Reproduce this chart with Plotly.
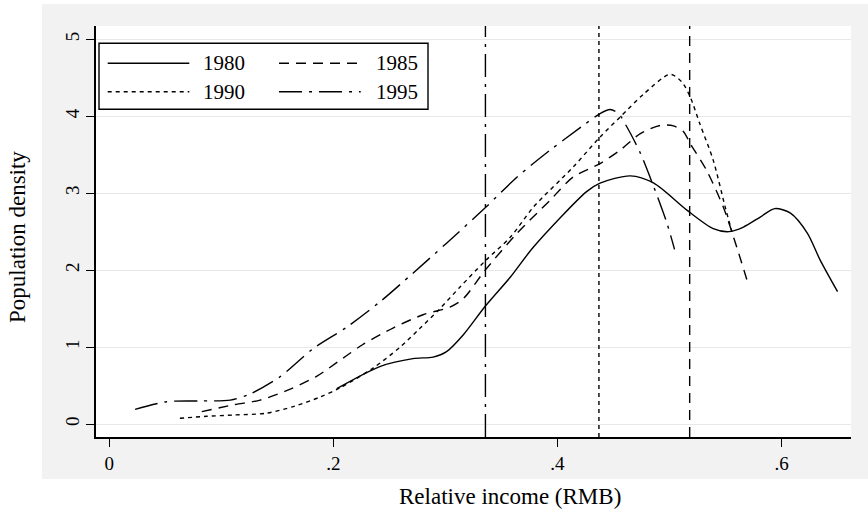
import plotly.graph_objects as go

# ---- data ----
years = ["1980", "1985", "1990", "1995"]

x1980 = [0.203, 0.242, 0.271, 0.289, 0.301, 0.316, 0.3355, 0.358, 0.3786, 0.426, 0.438,
         0.465, 0.486, 0.5155, 0.539, 0.553, 0.566, 0.581, 0.594, 0.608, 0.623, 0.6345, 0.650]
y1980 = [0.46, 0.75, 0.85, 0.87, 0.94, 1.16, 1.53, 1.91, 2.30, 3.02, 3.13,
         3.225, 3.13, 2.78, 2.54, 2.50, 2.56, 2.69, 2.80, 2.74, 2.48, 2.13, 1.72]

x1985 = [0.0825, 0.111, 0.1345, 0.161, 0.185, 0.209, 0.226, 0.2536, 0.280, 0.304, 0.316,
         0.3355, 0.364, 0.3935, 0.414, 0.438, 0.456, 0.474, 0.4917, 0.5036, 0.5125,
         0.5185, 0.533, 0.548, 0.560, 0.570]
y1985 = [0.16, 0.25, 0.31, 0.45, 0.62, 0.86, 1.03, 1.25, 1.42, 1.52, 1.63,
         2.00, 2.48, 2.91, 3.21, 3.385, 3.56, 3.775, 3.88, 3.875, 3.80,
         3.645, 3.30, 2.82, 2.30, 1.83]

x1990 = [0.063, 0.087, 0.111, 0.140, 0.165, 0.188, 0.206, 0.2357, 0.2596, 0.277, 0.2938,
         0.313, 0.3355, 0.358, 0.3786, 0.414, 0.438, 0.456, 0.477, 0.5006, 0.511,
         0.5185, 0.527, 0.539, 0.5497, 0.5557]
y1990 = [0.074, 0.10, 0.117, 0.14, 0.23, 0.35, 0.47, 0.73, 1.00, 1.24, 1.48,
         1.78, 2.12, 2.43, 2.82, 3.34, 3.73, 3.99, 4.29, 4.545, 4.445,
         4.25, 3.905, 3.43, 2.82, 2.50]

x1995 = [0.023, 0.0512, 0.081, 0.108, 0.1256, 0.152, 0.182, 0.212, 0.2417, 0.271, 0.301,
         0.3355, 0.364, 0.3935, 0.423, 0.438, 0.447, 0.4545, 0.462, 0.474, 0.486,
         0.4977, 0.5045]
y1995 = [0.19, 0.29, 0.30, 0.31, 0.39, 0.61, 0.98, 1.26, 1.59, 1.96, 2.35,
         2.81, 3.21, 3.56, 3.88, 4.035, 4.087, 4.035, 3.86, 3.52, 3.08,
         2.61, 2.27]

# vertical reference lines (mean relative income)
mean_years = ["1985", "1990", "1995"]
mean_values = [0.518, 0.437, 0.3357]

x_tickvals = [0, 0.2, 0.4, 0.6]
x_ticktext = ["0", ".2", ".4", ".6"]
y_tickvals = [0, 1, 2, 3, 4, 5]
y_ticktext = ["0", "1", "2", "3", "4", "5"]

# ---- styles ----
FONT = "Liberation Serif, Times New Roman, serif"
dash_style = {
    "1980": "solid",
    "1985": "10px,7px",
    "1990": "4px,4px",
    "1995": "23px,7px,3px,7px",
}
LW = 1.4

series = {"1980": (x1980, y1980), "1985": (x1985, y1985),
          "1990": (x1990, y1990), "1995": (x1995, y1995)}

fig = go.Figure()
for yr in years:
    xs, ys = series[yr]
    fig.add_trace(go.Scatter(
        x=xs, y=ys, mode="lines", name=yr, showlegend=False,
        line=dict(color="black", width=LW, dash=dash_style[yr],
                  shape="spline", smoothing=0.8),
        hoverinfo="skip"))

# plot geometry in pixels
W, H = 868, 510
L, R, T, B = 96, 851, 26, 437
pw, ph = R - L, B - T


def px(x):
    return (x - L) / pw


def py(y):
    return (B - y) / ph


shapes = []
# white outer strips (graph region is grey)
for (x0, x1, y0, y1) in [(0, 42, 0, H), (0, W, 479, H), (0, W, 0, 4)]:
    shapes.append(dict(type="rect", xref="paper", yref="paper",
                       x0=px(x0), x1=px(x1), y0=py(y1), y1=py(y0),
                       fillcolor="white", line=dict(width=0), layer="below"))

# vertical mean lines
for yr, mv in zip(mean_years, mean_values):
    shapes.append(dict(type="line", xref="x", yref="paper", x0=mv, x1=mv, y0=0, y1=1,
                       line=dict(color="black", width=LW, dash=dash_style[yr])))

# custom legend
shapes.append(dict(type="rect", xref="paper", yref="paper",
                   x0=px(99), x1=px(428), y0=py(109.3), y1=py(43.3),
                   fillcolor="white", line=dict(color="black", width=1.4)))
leg_rows = [63.3, 91.7]
leg_cols = [(107.7, 189.3, 200.5), (279, 360.7, 373.5)]
annotations = []
for i, yr in enumerate(["1980", "1985", "1990", "1995"]):
    r, c = divmod(i, 2)
    lx0, lx1, tx = leg_cols[c]
    yy = leg_rows[r]
    shapes.append(dict(type="line", xref="paper", yref="paper",
                       x0=px(lx0), x1=px(lx1), y0=py(yy), y1=py(yy),
                       line=dict(color="black", width=LW, dash=dash_style[yr])))
    annotations.append(dict(xref="paper", yref="paper", x=px(tx), y=py(yy),
                            xanchor="left", yanchor="middle", text=yr,
                            showarrow=False, font=dict(family=FONT, size=21, color="black")))

# axis titles
annotations.append(dict(xref="paper", yref="paper", x=px(510), y=py(496),
                        xanchor="center", yanchor="middle", text="Relative income (RMB)",
                        showarrow=False, font=dict(family=FONT, size=23, color="black")))
annotations.append(dict(xref="paper", yref="paper", x=px(17.5), y=py(237.5),
                        xanchor="center", yanchor="middle", text="Population density",
                        textangle=-90, showarrow=False,
                        font=dict(family=FONT, size=23, color="black")))

fig.update_layout(
    width=W, height=H,
    margin=dict(l=L, r=W - R, t=T, b=H - B, pad=0),
    paper_bgcolor="#f2f2f2", plot_bgcolor="white",
    font=dict(family=FONT, color="black"),
    shapes=shapes, annotations=annotations,
    showlegend=False,
)
fig.update_xaxes(
    range=[-0.0119, 0.662], tickvals=x_tickvals, ticktext=x_ticktext,
    showgrid=False, zeroline=False, showline=True, linecolor="black", linewidth=1.6,
    ticks="outside", ticklen=8, tickwidth=1.4, tickcolor="black",
    tickfont=dict(family=FONT, size=19, color="black"),
)
fig.update_yaxes(
    range=[-0.169, 5.173], tickvals=y_tickvals, ticktext=y_ticktext,
    showgrid=True, gridcolor="#e8e8e8", gridwidth=1.2, zeroline=False,
    showline=True, linecolor="black", linewidth=1.6,
    ticks="outside", ticklen=8, tickwidth=1.4, tickcolor="black", tickangle=-90,
    tickfont=dict(family=FONT, size=19, color="black"),
)

fig.write_html("out.html")
